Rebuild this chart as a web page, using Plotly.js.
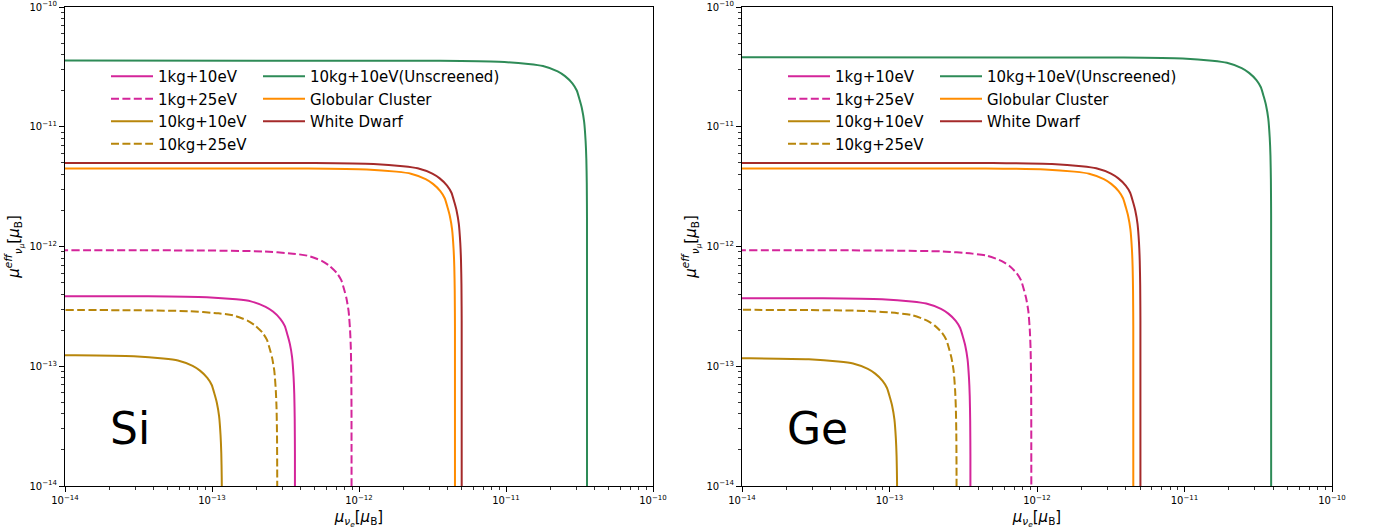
<!DOCTYPE html>
<html>
<head>
<meta charset="utf-8">
<script src="https://cdn.plot.ly/plotly-3.0.1.min.js"></script>
<style>html,body{margin:0;padding:0;background:#fff;}#chart{width:1375px;height:531px;}</style>
</head>
<body>
<div id="chart"></div>
<script>
// ---- Data ----
const seriesNames = ["1kg+10eV", "1kg+25eV", "10kg+10eV", "10kg+25eV", "10kg+10eV(Unscreened)", "Globular Cluster", "White Dwarf"];
// x-intercept (value of mu_nu_e where the curve drops vertically) and plateau (mu_eff at small mu_nu_e)
const siXIntercept = [3.67e-13, 8.9e-13, 1.17e-13, 2.78e-13, 3.56e-11, 4.5e-12, 5.0e-12];
const siPlateau    = [3.86e-13, 9.3e-13, 1.24e-13, 2.95e-13, 3.57e-11, 4.5e-12, 5.0e-12];
const geXIntercept = [3.54e-13, 9.15e-13, 1.13e-13, 2.85e-13, 3.87e-11, 4.5e-12, 5.03e-12];
const gePlateau    = [3.71e-13, 9.3e-13, 1.17e-13, 2.96e-13, 3.8e-11, 4.5e-12, 5.0e-12];
// measured corner profile of the curves: offset (decades) left of the x-intercept, and drop (decades) below the plateau
const cornerDx = [-4.0, -1.0, -0.6, -0.4, -0.3, -0.2, -0.15, -0.1, -0.07, -0.05, -0.035, -0.02, -0.01, -0.005, -0.002, -0.0005, 0];
const cornerDy = [0, 0.002, 0.01, 0.028, 0.045, 0.09, 0.13, 0.19, 0.25, 0.33, 0.40, 0.51, 0.67, 0.82, 1.02, 1.32, 6];
const panelLabels = ["Si", "Ge"];
const tickVals = [1e-14, 1e-13, 1e-12, 1e-11, 1e-10];
const tickText = ["10<sup>−14</sup>", "10<sup>−13</sup>", "10<sup>−12</sup>", "10<sup>−11</sup>", "10<sup>−10</sup>"];

// ---- Styles ----
const colors = ["#d4259a", "#d4259a", "#b8860b", "#b8860b", "#2e8b57", "#ff8c00", "#a52a2a"];
const dashes = ["solid", "8px,3.4px", "solid", "8px,3.4px", "solid", "solid", "solid"];
const FONT = "DejaVu Sans, Liberation Sans, sans-serif";

const traces = [];
const panels = [
  {xa: "x", ya: "y", A: siXIntercept, B: siPlateau, legs: ["legend", "legend2"]},
  {xa: "x2", ya: "y2", A: geXIntercept, B: gePlateau, legs: ["legend3", "legend4"]}
];
panels.forEach((p, pi) => {
  seriesNames.forEach((name, i) => {
    const a = p.A[i], b = p.B[i];
    traces.push({
      type: "scatter", mode: "lines",
      x: cornerDx.map(d => a * Math.pow(10, d)),
      y: cornerDy.map(d => b * Math.pow(10, -d)),
      xaxis: p.xa, yaxis: p.ya,
      name: name,
      legend: i < 4 ? p.legs[0] : p.legs[1],
      legendgroup: "g" + pi + "_" + i,
      line: {color: colors[i], width: 2, dash: dashes[i], shape: "spline", smoothing: 0.6},
      hoverinfo: "x+y+name"
    });
  });
});

function axisCommon() {
  return {
    type: "log", range: [-14, -10], autorange: false,
    tickmode: "array", tickvals: tickVals, ticktext: tickText,
    ticks: "outside", ticklen: 5, tickwidth: 1, tickcolor: "#000",
    minor: {ticks: "outside", ticklen: 3, tickwidth: 0.8, tickcolor: "#000", dtick: "D1", showgrid: false},
    showgrid: false, zeroline: false,
    showline: true, mirror: true, linecolor: "#000", linewidth: 1,
    tickfont: {family: FONT, size: 10, color: "#000"},
    automargin: false
  };
}

const xTitle = "<i>μ</i><sub><i>ν</i><sub><i>e</i></sub></sub>[<i>μ</i><sub>B</sub>]";
const yTitle = "<i>μ</i><sup><i>eff</i></sup><sub><i>ν</i><sub><i>μ</i></sub></sub>[<i>μ</i><sub>B</sub>]";

const yDom = [45 / 531, 524 / 531];
const layout = {
  width: 1375, height: 531,
  margin: {l: 0, r: 0, t: 0, b: 0},
  paper_bgcolor: "#fff", plot_bgcolor: "#fff",
  font: {family: FONT, color: "#000"},
  showlegend: true,
  xaxis: Object.assign(axisCommon(), {domain: [65 / 1375, 653 / 1375], anchor: "y",
    title: {text: xTitle, font: {family: FONT, size: 15}, standoff: 6}}),
  yaxis: Object.assign(axisCommon(), {domain: yDom, anchor: "x",
    title: {text: yTitle, font: {family: FONT, size: 15}, standoff: 6}}),
  xaxis2: Object.assign(axisCommon(), {domain: [742 / 1375, 1332 / 1375], anchor: "y2",
    title: {text: xTitle, font: {family: FONT, size: 15}, standoff: 6}}),
  yaxis2: Object.assign(axisCommon(), {domain: yDom, anchor: "x2",
    title: {text: yTitle, font: {family: FONT, size: 15}, standoff: 6}}),
  annotations: [
    {text: panelLabels[0], xref: "paper", yref: "paper", x: 108 / 1375, y: 1 - 456 / 531, xanchor: "left", yanchor: "bottom",
     showarrow: false, font: {family: FONT, size: 44, color: "#000"}},
    {text: panelLabels[1], xref: "paper", yref: "paper", x: 785 / 1375, y: 1 - 456 / 531, xanchor: "left", yanchor: "bottom",
     showarrow: false, font: {family: FONT, size: 44, color: "#000"}}
  ]
};
function leg(xpx) {
  return {x: xpx / 1375, y: 1 - 60 / 531, xanchor: "left", yanchor: "top", xref: "paper", yref: "paper",
    bgcolor: "rgba(255,255,255,0)", borderwidth: 0, font: {family: FONT, size: 15, color: "#000"},
    tracegroupgap: 2.6, traceorder: "normal", orientation: "v", itemwidth: 42};
}
layout.legend = leg(106);
layout.legend2 = leg(258);
layout.legend3 = leg(783);
layout.legend4 = leg(935);

Plotly.newPlot("chart", traces, layout, {displayModeBar: false, staticPlot: true});
</script>
</body>
</html>
